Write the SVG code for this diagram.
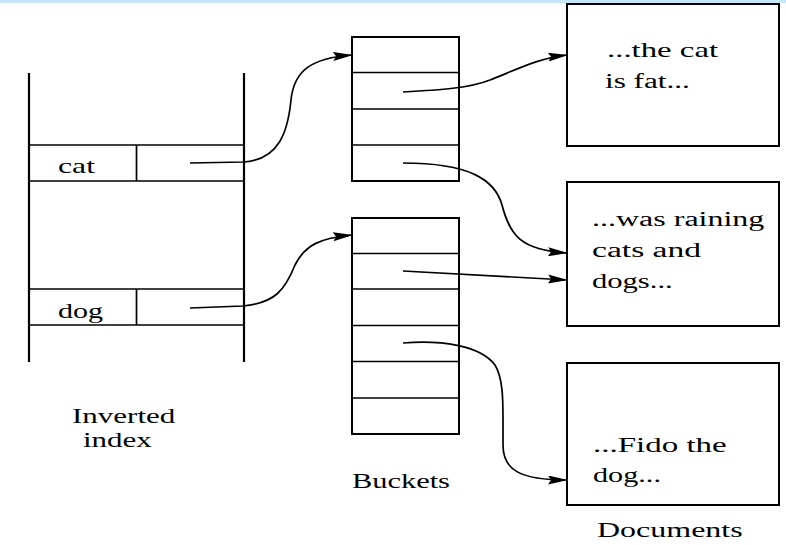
<svg xmlns="http://www.w3.org/2000/svg" width="786" height="545" viewBox="0 0 786 545">
<defs>
<marker id="arr" viewBox="0 0 20 9" refX="19" refY="4.5" markerUnits="userSpaceOnUse" markerWidth="20" markerHeight="9" orient="auto">
<path d="M0,0 L20,4.5 L0,9 L3,4.5 z" fill="#000"/>
</marker>
</defs>
<style>
.box{fill:#fff;stroke:#000;stroke-width:2}
.ln{stroke:#000;stroke-width:1.7;fill:none}
.vl{stroke:#000;stroke-width:2.2;fill:none}
.cn{stroke:#000;stroke-width:1.7;fill:none;marker-end:url(#arr)}
text{font-family:"Liberation Serif","Times New Roman",serif;font-size:20px;fill:#000}
</style>
<rect x="0" y="0" width="786" height="3" fill="#c6e7f7"/>
<g id="inverted-index">
<line class="vl" x1="29" y1="73" x2="29" y2="362"/>
<line class="vl" x1="244" y1="73" x2="244" y2="362"/>
<line class="ln" x1="29" y1="145" x2="244" y2="145"/>
<line class="ln" x1="29" y1="181" x2="244" y2="181"/>
<line class="ln" x1="136.5" y1="145" x2="136.5" y2="181"/>
<line class="ln" x1="29" y1="289" x2="244" y2="289"/>
<line class="ln" x1="29" y1="325" x2="244" y2="325"/>
<line class="ln" x1="136.5" y1="289" x2="136.5" y2="325"/>
<text transform="matrix(1.59,0,0,1,58,173)">cat</text>
<text transform="matrix(1.5,0,0,1,58,318)">dog</text>
<text transform="matrix(1.55,0,0,1,72,423)">Inverted</text>
<text transform="matrix(1.55,0,0,1,83,447)">index</text>
</g>
<g id="bucket1">
<rect class="box" x="352" y="37" width="107" height="144"/>
<line class="ln" x1="352" y1="72.5" x2="459" y2="72.5"/>
<line class="ln" x1="352" y1="109" x2="459" y2="109"/>
<line class="ln" x1="352" y1="145" x2="459" y2="145"/>
</g>
<g id="bucket2">
<rect class="box" x="352" y="218" width="107" height="216"/>
<line class="ln" x1="352" y1="253.5" x2="459" y2="253.5"/>
<line class="ln" x1="352" y1="289" x2="459" y2="289"/>
<line class="ln" x1="352" y1="325.5" x2="459" y2="325.5"/>
<line class="ln" x1="352" y1="361.5" x2="459" y2="361.5"/>
<line class="ln" x1="352" y1="398" x2="459" y2="398"/>
<text transform="matrix(1.52,0,0,1,352,488)">Buckets</text>
</g>
<g id="doc1">
<rect class="box" x="567" y="4" width="212" height="142"/>
<text transform="matrix(1.64,0,0,1,607,57)">...the cat</text>
<text transform="matrix(1.56,0,0,1,605,88)">is fat...</text>
</g>
<g id="doc2">
<rect class="box" x="567" y="182" width="212" height="144"/>
<text transform="matrix(1.6,0,0,1,592,226)">...was raining</text>
<text transform="matrix(1.68,0,0,1,592,257)">cats and</text>
<text transform="matrix(1.53,0,0,1,592,288)">dogs...</text>
</g>
<g id="doc3">
<rect class="box" x="567" y="363" width="212" height="142"/>
<text transform="matrix(1.65,0,0,1,593,452)">...Fido the</text>
<text transform="matrix(1.51,0,0,1,593,482)">dog...</text>
<text transform="matrix(1.6,0,0,1,597,537)">Documents</text>
</g>
<g id="connectors">
<path class="cn" d="M190,163 L243,162 C280,160 288,130 291,100 C294,70 312,58 352,55"/>
<path class="cn" d="M190,308 L243,306 C275,303 285,290 295,265 C305,245 320,238 352,235"/>
<path class="cn" d="M403,92 C440,90 470,88 490,80 C520,68 540,58 567,55"/>
<path class="cn" d="M403,163 C470,163 495,180 502,205 C510,235 520,250 567,253"/>
<path class="cn" d="M403,271 L567,280"/>
<path class="cn" d="M403,343 C440,340 480,345 495,365 C503,378 503,400 503,420 L503,445 C503,470 520,480 567,480"/>
</g>
</svg>
